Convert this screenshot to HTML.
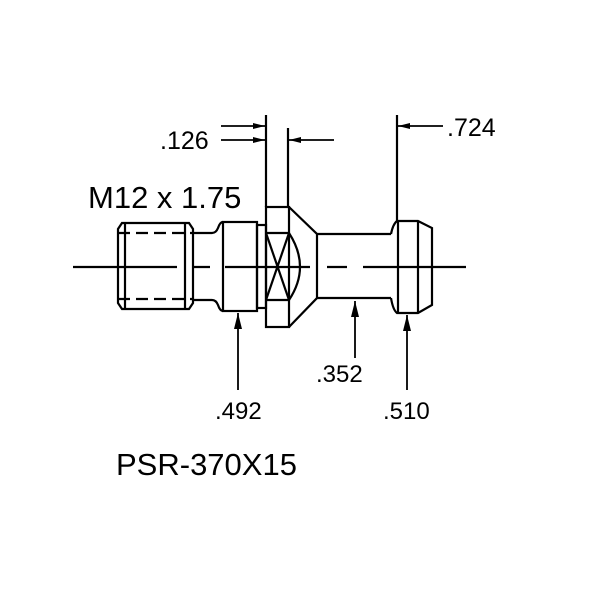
<!DOCTYPE html>
<html><head><style>body{margin:0;background:#fff}svg{display:block}</style></head><body>
<svg width="600" height="600" viewBox="0 0 600 600" xmlns="http://www.w3.org/2000/svg">
<rect width="600" height="600" fill="#fff"/>
<defs><marker id="a" viewBox="0 0 12 6" refX="12" refY="3" markerWidth="12" markerHeight="6" markerUnits="userSpaceOnUse" orient="auto"><path d="M0,0 L12,3 L0,6 z" fill="#000"/></marker>
<marker id="b" viewBox="0 0 16 8" refX="16" refY="4" markerWidth="16" markerHeight="8" markerUnits="userSpaceOnUse" orient="auto"><path d="M0,0 L16,4 L0,8 z" fill="#000"/></marker></defs>
<g fill="none" stroke="#000" stroke-width="2.2">
<path d="M122,223 L189,223 L193,229 L193,303 L189,309 L122,309 L118,303 L118,229 Z"/>
<line x1="125" y1="223" x2="125" y2="309"/><line x1="185" y1="223" x2="185" y2="309"/>
<line x1="118" y1="233" x2="193" y2="233" stroke-dasharray="12,6"/>
<line x1="118" y1="299" x2="193" y2="299" stroke-dasharray="12,6"/>
<path d="M193,233 L212,233 Q216,233 218,228 Q220,222 223,222"/>
<path d="M193,300 L212,300 Q216,300 218,305 Q220,311 223,311"/>
<rect x="223" y="222" width="34" height="89"/>
<rect x="257" y="225" width="9" height="83"/>
<rect x="266" y="207" width="23" height="120"/>
<line x1="266" y1="233" x2="289" y2="233"/><line x1="266" y1="300" x2="289" y2="300"/>
<line x1="266" y1="233" x2="289" y2="300"/><line x1="289" y1="233" x2="266" y2="300"/>
<path d="M289,233 Q311,267 289,300"/>
<path d="M289,207 L317,234 L317,298 L289,327"/>
<line x1="317" y1="234" x2="391" y2="234"/><line x1="317" y1="298" x2="391" y2="298"/>
<path d="M391,234 Q393,224 397,221 L418,221 L432,228 L432,305 L418,313 L397,313 Q393,310 391,298"/>
<line x1="398" y1="221" x2="398" y2="313"/><line x1="418" y1="221" x2="418" y2="313"/>
<path d="M73,267H177 M193,267H210 M225,267H310 M327,267H347 M363,267H466"/>
<line x1="266" y1="115" x2="266" y2="207"/>
<line x1="288" y1="128" x2="288" y2="207"/>
<line x1="397" y1="115" x2="397" y2="221"/>
<line x1="221" y1="126" x2="265" y2="126" marker-end="url(#a)" stroke-width="1.8"/>
<line x1="221" y1="140" x2="265" y2="140" marker-end="url(#a)" stroke-width="1.8"/>
<line x1="334" y1="140" x2="289" y2="140" marker-end="url(#a)" stroke-width="1.8"/>
<line x1="443" y1="126" x2="398" y2="126" marker-end="url(#a)" stroke-width="1.8"/>
<line x1="238" y1="390" x2="238" y2="313" marker-end="url(#b)" stroke-width="1.8"/>
<line x1="355" y1="358" x2="355" y2="301" marker-end="url(#b)" stroke-width="1.8"/>
<line x1="407" y1="390" x2="407" y2="315" marker-end="url(#b)" stroke-width="1.8"/>
</g>
<g font-family="Liberation Sans, Arial, sans-serif" fill="#000">
<text x="160" y="149" font-size="25">.126</text>
<text x="447" y="136" font-size="25">.724</text>
<text x="88" y="208" font-size="31">M12 x 1.75</text>
<text x="215" y="419" font-size="24">.492</text>
<text x="316" y="382" font-size="24">.352</text>
<text x="383" y="419" font-size="24">.510</text>
<text x="116" y="475" font-size="31">PSR-370X15</text>
</g>
</svg>
</body></html>
